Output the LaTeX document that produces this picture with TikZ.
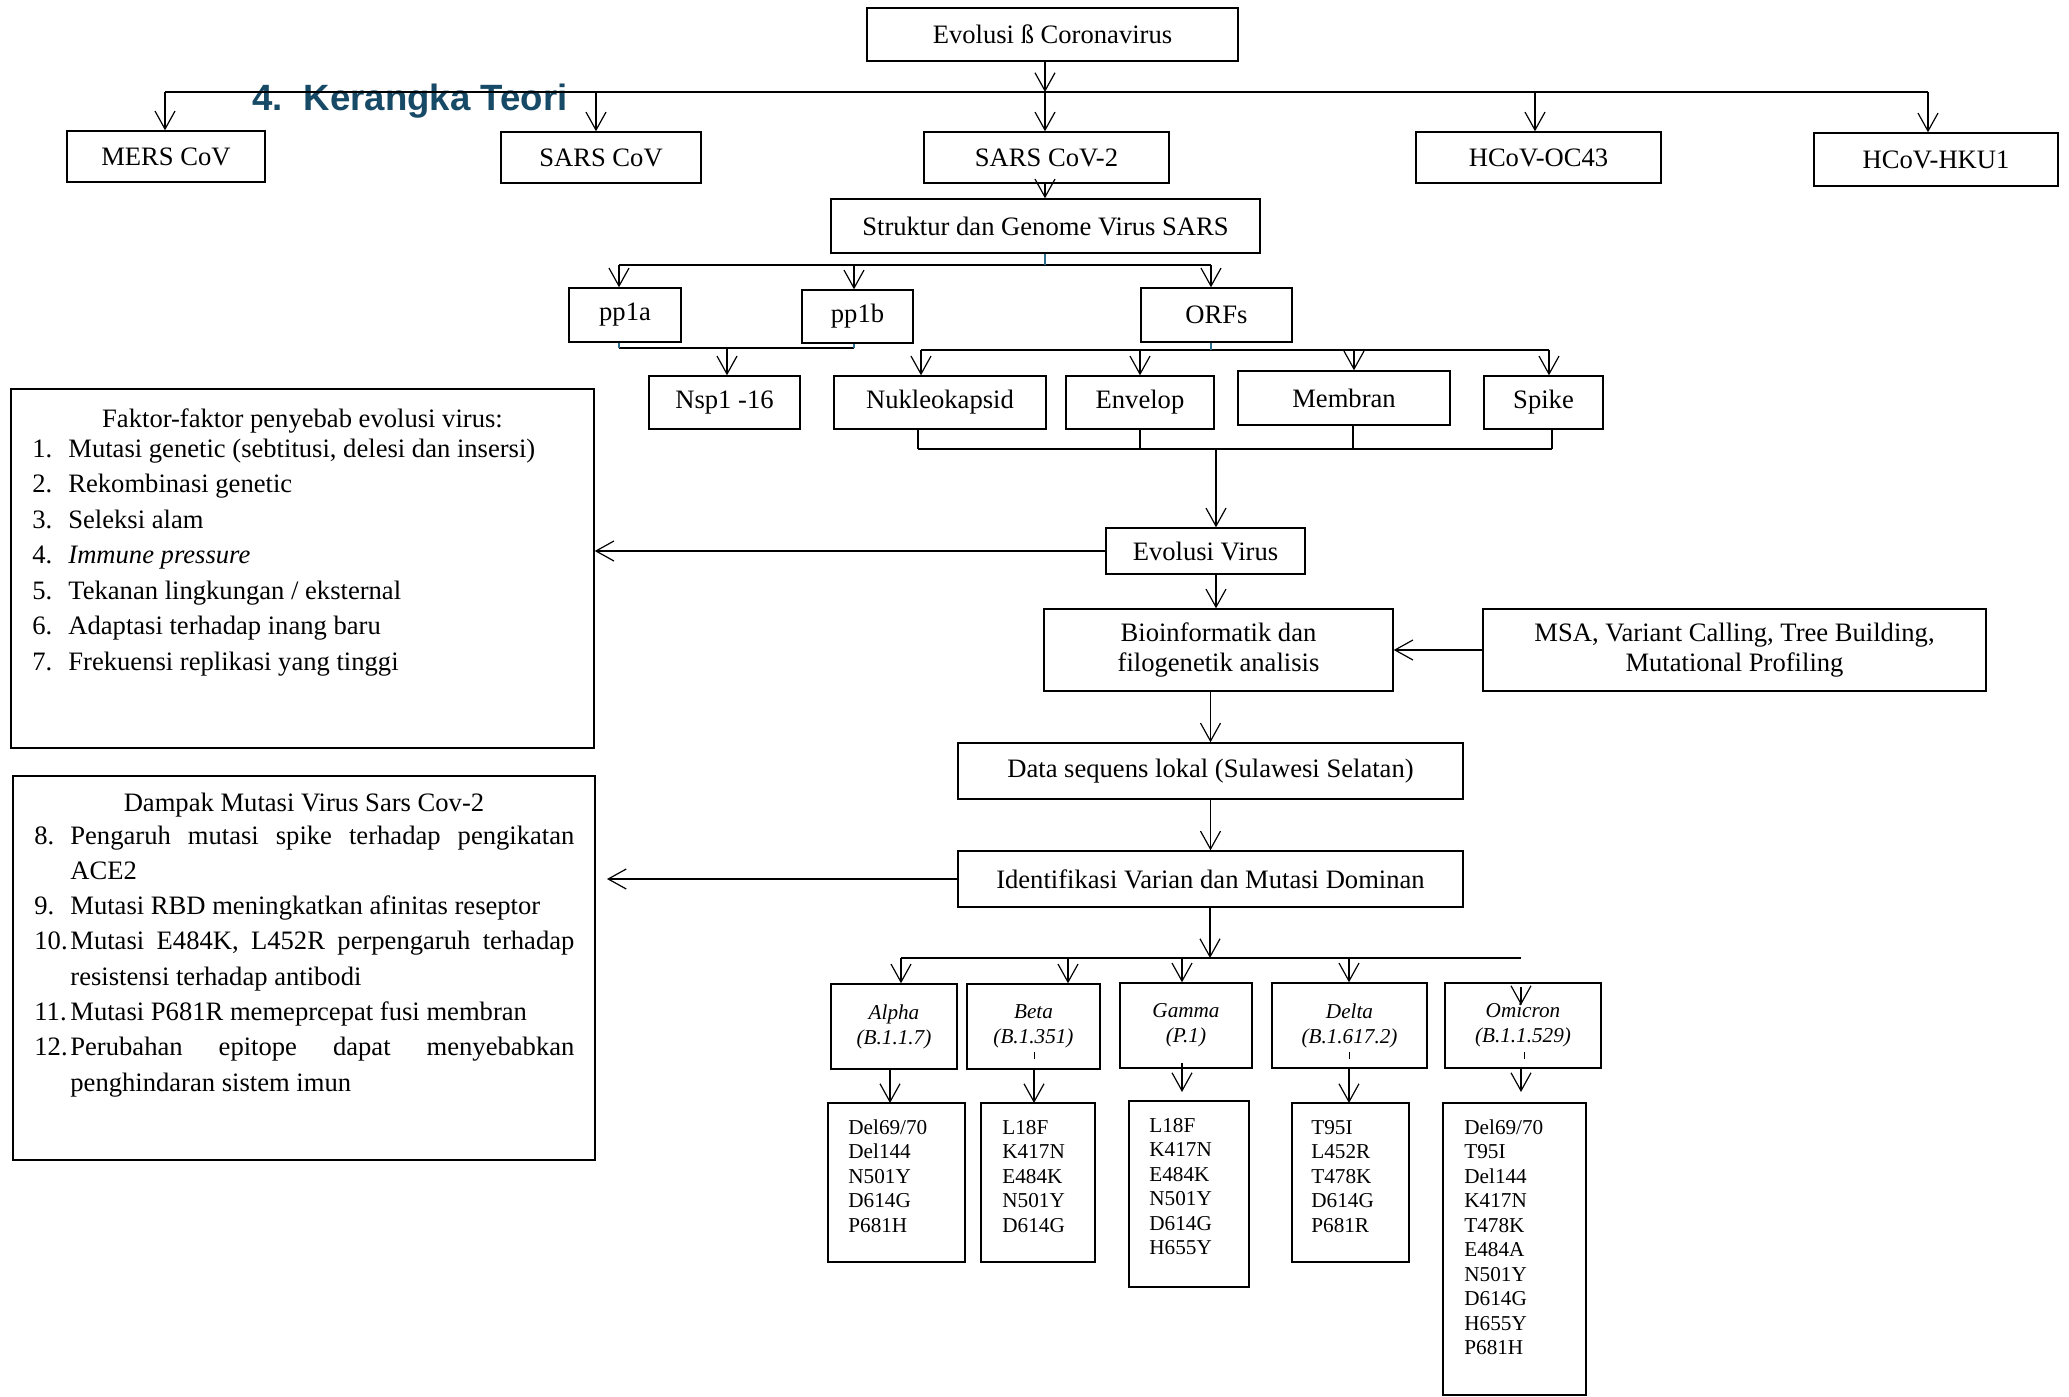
\documentclass[tikz,border=0pt]{standalone}
\usepackage{fontspec}
\setmainfont{Liberation Serif}
\newfontfamily\titlefont{Liberation Sans}
\usetikzlibrary{arrows.meta}
\definecolor{titleblue}{HTML}{174A66}
\definecolor{tickteal}{HTML}{2C6E8E}
\newcommand{\mainfs}{\fontsize{13.3}{15}\selectfont}
\newcommand{\smallfs}{\fontsize{10.6}{12.4}\selectfont}
\newcommand{\mutfs}{\fontsize{10.6}{12.25}\selectfont}
\newcommand{\nb}[1]{\makebox[18pt][l]{#1}}
\begin{document}
\begin{tikzpicture}[x=0.5pt,y=-0.5pt,
  box/.style={draw, line width=0.7pt, inner sep=0pt, align=center, font=\mainfs},
  vbox/.style={draw, line width=0.7pt, inner sep=0pt, align=center, font=\smallfs\itshape},
  mbox/.style={draw, line width=0.7pt, inner sep=0pt},
  arr/.style={line width=0.6pt, -{Straight Barb[length=9pt,width=10pt]}},
  bus/.style={line width=1.1pt},
  conn/.style={line width=0.6pt},
  tick/.style={line width=1pt, draw=tickteal},
  stray/.style={line width=0.4pt},
  mtext/.style={anchor=base west, inner sep=0pt},
]
\useasboundingbox (0,0) rectangle (2069,1397);

% title
\node[anchor=base west, inner sep=0pt, text=titleblue,
      font=\titlefont\bfseries\fontsize{18.3}{20}\selectfont] (title) at (252,110)
      {4.\hspace{10.5pt}Kerangka Teori};

% level 0/1 boxes
\node[box, minimum width=185.5pt, minimum height=26.5pt] (top) at (1052.5,34.5) {Evolusi ß Coronavirus};
\node[box, minimum width=99pt, minimum height=25.5pt] (mers) at (166,156.5) {MERS CoV};
\node[box, minimum width=100pt, minimum height=25.5pt] (sars) at (601,157.5) {SARS CoV};
\node[box, minimum width=122.5pt, minimum height=25.5pt] (sars2) at (1046.5,157.5) {SARS CoV-2};
\node[box, minimum width=122.5pt, minimum height=25.5pt] (oc43) at (1538.5,157.5) {HCoV-OC43};
\node[box, minimum width=122pt, minimum height=26.5pt] (hku1) at (1936,159.5) {HCoV-HKU1};

% structure
\node[box, minimum width=214.5pt, minimum height=27pt] (struktur) at (1045.5,226) {Struktur dan Genome Virus SARS};
\node[box, minimum width=56pt, minimum height=27pt] (pp1a) at (625,315) {pp1a};
\node[box, minimum width=55.5pt, minimum height=26.5pt] (pp1b) at (857.5,316.5) {pp1b};
\node[box, minimum width=75.5pt, minimum height=27pt] (orfs) at (1216.5,315) {ORFs};
\node[box, minimum width=75.5pt, minimum height=26.5pt] (nsp) at (724.5,402.5) {Nsp1 -16};
\node[box, minimum width=106pt, minimum height=26.5pt] (nuk) at (940,402.5) {Nukleokapsid};
\node[box, minimum width=74pt, minimum height=26.5pt] (env) at (1140,402.5) {Envelop};
\node[box, minimum width=106pt, minimum height=27pt] (mem) at (1344,398) {Membran};
\node[box, minimum width=59.5pt, minimum height=26.5pt] (spike) at (1543.5,402.5) {Spike};

% process chain
\node[box, minimum width=99.5pt, minimum height=23pt] (evo) at (1205.5,551) {Evolusi Virus};
\node[box, minimum width=174.5pt, minimum height=41pt] (bio) at (1218.5,650) {Bioinformatik dan\\filogenetik analisis};
\node[box, minimum width=251.5pt, minimum height=41pt] (msa) at (1734.5,650) {MSA, Variant Calling, Tree Building,\\Mutational Profiling};
\node[box, minimum width=252.5pt, minimum height=28pt] (data) at (1210.5,771) {Data sequens lokal (Sulawesi Selatan)};
\node[box, minimum width=252.5pt, minimum height=28pt] (ident) at (1210.5,879) {Identifikasi Varian dan Mutasi Dominan};

% left boxes
\node[mbox, minimum width=291.5pt, minimum height=179.5pt] (left1) at (302.5,568.5) {};
\node[anchor=base, inner sep=0pt, font=\mainfs] (l1title) at (302.5,427) {Faktor-faktor penyebab evolusi virus:};
\node[mtext] (l1list) at (32,457) {\parbox[t]{280pt}{\fontsize{13.3}{17.75}\selectfont
\nb{1.}Mutasi genetic (sebtitusi, delesi dan insersi)\\
\nb{2.}Rekombinasi genetic\\
\nb{3.}Seleksi alam\\
\nb{4.}\textit{Immune pressure}\\
\nb{5.}Tekanan lingkungan / eksternal\\
\nb{6.}Adaptasi terhadap inang baru\\
\nb{7.}Frekuensi replikasi yang tinggi}};

\node[mbox, minimum width=291pt, minimum height=192pt] (left2) at (304,968) {};
\node[anchor=base, inner sep=0pt, font=\mainfs] (l2title) at (304,811) {Dampak Mutasi Virus Sars Cov-2};
\node[mtext] (l2list) at (34,844) {\parbox[t]{270pt}{\fontsize{13.3}{17.65}\selectfont
\nb{8.}\makebox[252pt][s]{Pengaruh mutasi spike terhadap pengikatan}\\
\hspace*{18pt}ACE2\\
\nb{9.}Mutasi RBD meningkatkan afinitas reseptor\\
\nb{10.}\makebox[252pt][s]{Mutasi E484K, L452R perpengaruh terhadap}\\
\hspace*{18pt}resistensi terhadap antibodi\\
\nb{11.}Mutasi P681R memeprcepat fusi membran\\
\nb{12.}\makebox[252pt][s]{Perubahan epitope dapat menyebabkan}\\
\hspace*{18pt}penghindaran sistem imun}};

% variant boxes
\node[vbox, minimum width=63pt, minimum height=42.5pt] (alpha) at (894,1026.5) {Alpha\\(B.1.1.7)};
\node[vbox, minimum width=66.5pt, minimum height=42.5pt] (beta) at (1033.5,1026.5) {Beta\\(B.1.351)};
\node[vbox, minimum width=66pt, minimum height=42.5pt] (gamma) at (1186,1025.5) {Gamma\\(P.1)};
\node[vbox, minimum width=77.5pt, minimum height=42.5pt] (delta) at (1349.5,1025.5) {Delta\\(B.1.617.2)};
\node[vbox, minimum width=78pt, minimum height=42.5pt] (omicron) at (1523,1025.5) {Omicron\\(B.1.1.529)};

% mutation boxes
\node[mbox, minimum width=68.5pt, minimum height=79.5pt] (ma) at (896.5,1182.5) {};
\node[mbox, minimum width=57pt, minimum height=79.5pt] (mb) at (1038,1182.5) {};
\node[mbox, minimum width=60pt, minimum height=93pt] (mg) at (1189,1194) {};
\node[mbox, minimum width=58.5pt, minimum height=79.5pt] (md) at (1350.5,1182.5) {};
\node[mbox, minimum width=71.5pt, minimum height=146pt] (mo) at (1514.5,1249) {};
\node[mtext] (mat) at (848,1134) {\parbox[t]{60pt}{\mutfs Del69/70\\Del144\\N501Y\\D614G\\P681H}};
\node[mtext] (mbt) at (1002,1134) {\parbox[t]{50pt}{\mutfs L18F\\K417N\\E484K\\N501Y\\D614G}};
\node[mtext] (mgt) at (1149,1132) {\parbox[t]{50pt}{\mutfs L18F\\K417N\\E484K\\N501Y\\D614G\\H655Y}};
\node[mtext] (mdt) at (1311,1134) {\parbox[t]{50pt}{\mutfs T95I\\L452R\\T478K\\D614G\\P681R}};
\node[mtext] (mot) at (1464,1134) {\parbox[t]{60pt}{\mutfs Del69/70\\T95I\\Del144\\K417N\\T478K\\E484A\\N501Y\\D614G\\H655Y\\P681H}};

% ---------- connectors ----------
% level 1
\coordinate (b1a) at (165,92);
\coordinate (b1b) at (596,92);
\coordinate (b1c) at (1045,92);
\coordinate (b1d) at (1535,92);
\coordinate (b1e) at (1928,92);
\draw[arr] (top.south -| b1c) -- (b1c);
\draw[bus] (b1a) -- (b1e);
\foreach \c/\n in {b1a/mers,b1b/sars,b1c/sars2,b1d/oc43,b1e/hku1}
  \draw[arr] (\c) -- (\c |- \n.north);
\draw[arr] (sars2.south -| b1c) -- (struktur.north -| b1c);

% level 2
\coordinate (b2m) at (1045,265);
\coordinate (b2a) at (619,265);
\coordinate (b2b) at (854,265);
\coordinate (b2c) at (1211,265);
\draw[bus] (b2a) -- (b2c);
\draw[tick] (struktur.south -| b2m) -- (b2m);
\draw[arr] (b2a) -- (b2a |- pp1a.north);
\draw[arr] (b2b) -- (b2b |- pp1b.north);
\draw[arr] (b2c) -- (b2c |- orfs.north);

% pp1a / pp1b join
\coordinate (b3a) at (619,348);
\coordinate (b3b) at (854,348);
\coordinate (b3m) at (727,348);
\draw[bus] (b3a) -- (b3b);
\draw[tick] (pp1a.south -| b3a) -- (b3a);
\draw[tick] (pp1b.south -| b3b) -- (b3b);
\draw[arr] (b3m) -- (b3m |- nsp.north);

% ORFs split
\coordinate (b4m) at (1211,350);
\coordinate (b4a) at (921,350);
\coordinate (b4b) at (1140,350);
\coordinate (b4c) at (1354,350);
\coordinate (b4d) at (1549,350);
\draw[bus] (b4a) -- (b4d);
\draw[tick] (orfs.south -| b4m) -- (b4m);
\draw[arr] (b4a) -- (b4a |- nuk.north);
\draw[arr] (b4b) -- (b4b |- env.north);
\draw[arr] (b4c) -- (b4c |- mem.north);
\draw[arr] (b4d) -- (b4d |- spike.north);

% join to Evolusi Virus
\coordinate (b5a) at (918,449);
\coordinate (b5b) at (1140,449);
\coordinate (b5c) at (1353,449);
\coordinate (b5d) at (1552,449);
\coordinate (b5m) at (1216,449);
\draw[conn] (nuk.south -| b5a) -- (b5a);
\draw[conn] (env.south -| b5b) -- (b5b);
\draw[conn] (mem.south -| b5c) -- (b5c);
\draw[conn] (spike.south -| b5d) -- (b5d);
\draw[bus] (b5a) -- (b5d);
\draw[arr] (b5m) -- (b5m |- evo.north);

% process chain
\draw[arr] (evo.west) -- (evo.west -| left1.east);
\draw[arr] (evo.south -| b5m) -- (b5m |- bio.north);
\draw[arr] (msa.west) -- (bio.east);
\draw[arr] (bio.south -| data.north) -- (data.north);
\draw[arr] (data.south) -- (ident.north);
\coordinate (l2tip) at (607,879);
\draw[arr] (ident.west) -- (l2tip);

% variants
\coordinate (b6m) at (1210,958);
\coordinate (b6a) at (901,958);
\coordinate (b6b) at (1068,958);
\coordinate (b6c) at (1182,958);
\coordinate (b6d) at (1349,958);
\coordinate (b6e) at (1521,958);
\draw[arr] (ident.south -| b6m) -- (b6m);
\draw[bus] (b6a) -- (b6e);
\draw[arr] (b6a) -- (b6a |- alpha.north);
\draw[arr] (b6b) -- (b6b |- beta.north);
\draw[arr] (b6c) -- (b6c |- gamma.north);
\draw[arr] (b6d) -- (b6d |- delta.north);
\coordinate (oa) at (1521,987);
\coordinate (ob) at (1521,1005);
\draw[arr] (oa) -- (ob);

% variant -> mutations
\coordinate (pa) at (890,1103);
\coordinate (pb) at (1034,1103);
\coordinate (gs) at (1182,1063);
\coordinate (ge) at (1182,1092);
\coordinate (pd) at (1349,1103);
\coordinate (pe) at (1521,1092);
\draw[arr] (alpha.south -| pa) -- (pa);
\draw[arr] (beta.south -| pb) -- (pb);
\draw[arr] (gs) -- (ge);
\draw[arr] (delta.south -| pd) -- (pd);
\draw[arr] (omicron.south -| pe) -- (pe);

% small stray marks
\coordinate (s1) at (1034,1052);
\coordinate (s2) at (1349,1052);
\coordinate (s3) at (1524,1052);
\foreach \s in {s1,s2,s3} \draw[stray] (\s) -- ++(0,7);
\end{tikzpicture}
\end{document}
